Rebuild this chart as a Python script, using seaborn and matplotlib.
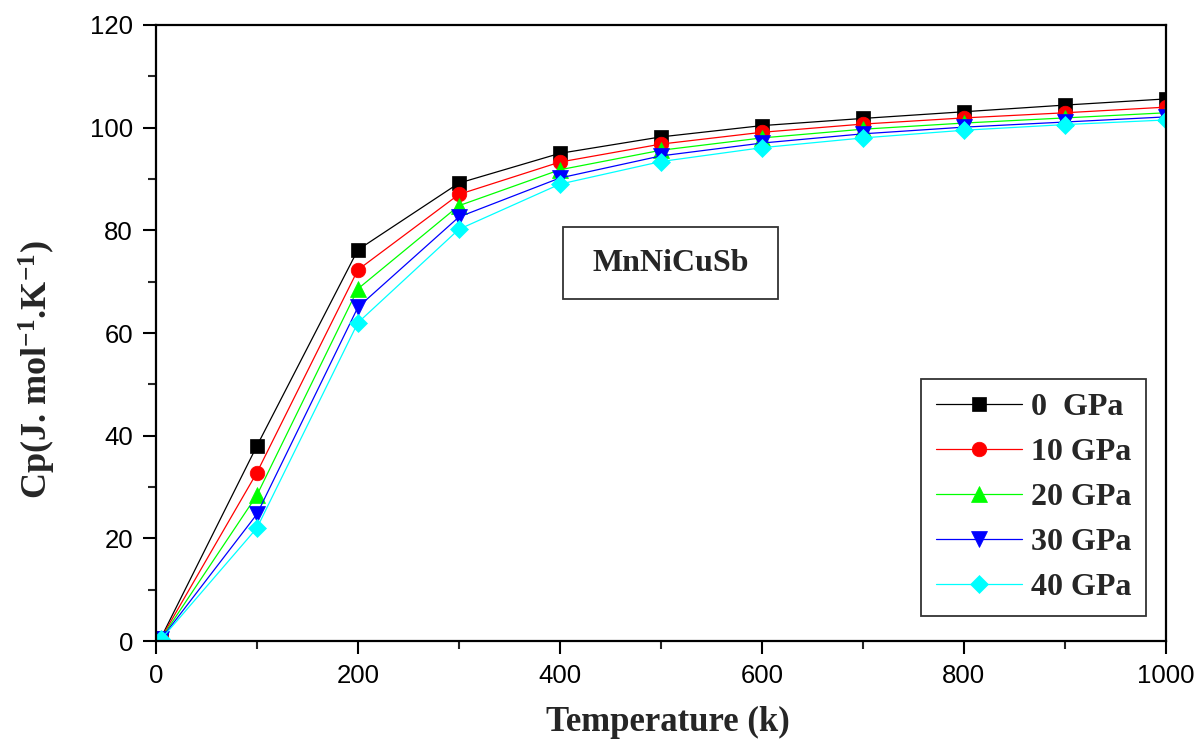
import matplotlib
matplotlib.use("Agg")
import matplotlib.pyplot as plt
import seaborn as sns
import numpy as np
import pandas as pd
from matplotlib.patches import Rectangle
from matplotlib.ticker import MultipleLocator

# ---- data ----
temperature = [5, 100, 200, 300, 400, 500, 600, 700, 800, 900, 1000]
cp_0gpa  = [0.6, 38.0, 76.2, 89.2, 95.0, 98.2, 100.4, 101.8, 103.1, 104.4, 105.6]
cp_10gpa = [0.5, 32.8, 72.3, 87.0, 93.3, 96.8, 99.1, 100.7, 101.9, 102.9, 104.0]
cp_20gpa = [0.4, 28.4, 68.6, 84.8, 91.8, 95.6, 98.0, 99.7, 100.9, 101.9, 102.9]
cp_30gpa = [0.35, 24.7, 65.0, 82.6, 90.2, 94.5, 97.0, 98.8, 100.1, 101.1, 102.1]
cp_40gpa = [0.3, 22.0, 62.0, 80.2, 89.0, 93.4, 96.1, 98.0, 99.5, 100.6, 101.5]
series_labels = ["0  GPa", "10 GPa", "20 GPa", "30 GPa", "40 GPa"]
series_values = [cp_0gpa, cp_10gpa, cp_20gpa, cp_30gpa, cp_40gpa]
series_colors = ["#000000", "#FF0000", "#00FF00", "#0000FF", "#00FFFF"]
series_markers = ["s", "o", "^", "v", "D"]
series_msize = [10.5, 10.5, 11, 11, 9.5]

sns.set_style("ticks")
plt.rcParams["font.family"] = ["Liberation Sans", "DejaVu Sans"]
plt.rcParams["mathtext.default"] = "regular"

fig = plt.figure(figsize=(11.99, 7.44), dpi=100)
ax = fig.add_axes([0.130, 0.1384, 0.8424, 0.828])

for lab, vals, col, mk, ms in zip(series_labels, series_values, series_colors,
                                  series_markers, series_msize):
    sns.lineplot(x=temperature, y=vals, ax=ax, color=col, marker=mk,
                 markersize=ms, markeredgecolor=col, markeredgewidth=0.5,
                 linewidth=0.9, label=lab, errorbar=None)

ax.set_xlim(0, 1000)
ax.set_ylim(0, 120)
ax.xaxis.set_major_locator(MultipleLocator(200))
ax.xaxis.set_minor_locator(MultipleLocator(100))
ax.yaxis.set_major_locator(MultipleLocator(20))
ax.yaxis.set_minor_locator(MultipleLocator(10))
ax.tick_params(axis="both", which="major", direction="out", length=9.5, width=1.5,
               labelsize=18.5, pad=7, color="black", labelcolor="black")
ax.tick_params(axis="both", which="minor", direction="out", length=6, width=1.5)
ax.tick_params(top=False, right=False, which="both")
for sp in ax.spines.values():
    sp.set_linewidth(1.6)
    sp.set_color("black")
    sp.set_visible(True)

serif_bold = dict(family=["Liberation Serif", "DejaVu Serif"], weight="bold")
ax.set_xlabel("Temperature (k)", fontsize=25, **serif_bold)
ax.set_ylabel(r"Cp(J. mol$^{-1}$.K$^{-1}$)", fontsize=26, **serif_bold)
ax.xaxis.set_label_coords(0.507, -0.105)
ax.yaxis.set_label_coords(-0.097, 0.44)

# annotation box
ax.add_patch(Rectangle((0.403, 0.555), 0.213, 0.117, transform=ax.transAxes,
                       facecolor="white", edgecolor="#333333", linewidth=1.3, zorder=5))
ax.text(0.5095, 0.6135, "MnNiCuSb", transform=ax.transAxes, ha="center", va="center",
        fontsize=23, zorder=6, **serif_bold)

leg = ax.legend(loc="upper left", bbox_to_anchor=(0.758, 0.426), frameon=True,
                fancybox=False, framealpha=1, edgecolor="#333333",
                prop=dict(family=["Liberation Serif", "DejaVu Serif"], weight="bold", size=23),
                handlelength=2.7, handletextpad=0.28, borderpad=0.45, labelspacing=0.485,
                borderaxespad=0)
leg.get_frame().set_linewidth(1.3)

fig.savefig("out.png", dpi=100)
